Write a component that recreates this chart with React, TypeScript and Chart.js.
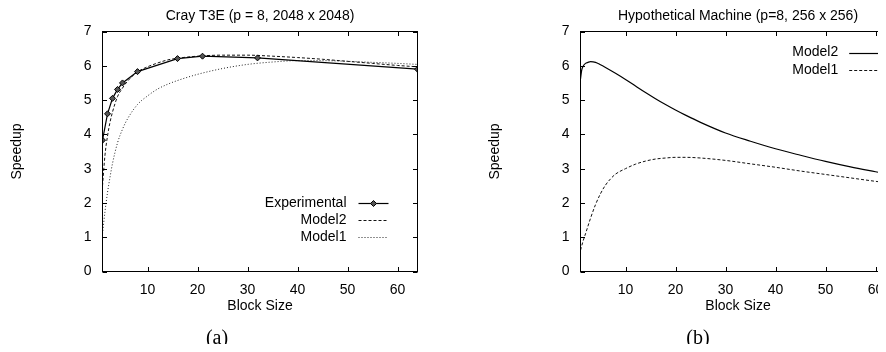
import React, { useEffect, useRef } from "react";
import { Chart, registerables } from "chart.js";
Chart.register(...registerables);

const SANS = "'Liberation Sans', Arial, Helvetica, sans-serif";
const SERIF = "'Liberation Serif', 'Times New Roman', serif";
const FS = 14;

const X_TICKS = [10, 20, 30, 40, 50, 60];
const Y_TICKS = [0, 1, 2, 3, 4, 5, 6, 7];

// (a) Cray T3E
const A_EXP_X = [1, 2, 3, 4, 5, 8, 16, 21, 32, 64];
const A_EXP_Y = [3.83, 4.6, 5.05, 5.31, 5.5, 5.83, 6.21, 6.28, 6.23, 5.9];
const A_M2_X = [1, 1.5, 2, 2.5, 3, 4, 5, 6, 8, 10, 12, 14, 16, 20, 25, 30, 35, 40, 45, 50, 55, 60, 64];
const A_M2_Y = [2.5, 3.4, 3.95, 4.35, 4.65, 5.1, 5.35, 5.55, 5.82, 5.97, 6.08, 6.17, 6.22, 6.28, 6.31, 6.31, 6.28, 6.24, 6.19, 6.13, 6.07, 6.01, 5.97];
const A_M1_X = [1, 1.5, 2, 2.5, 3, 4, 5, 6, 8, 10, 12, 14, 16, 20, 25, 30, 35, 40, 45, 50, 55, 60, 64];
const A_M1_Y = [1.1, 1.75, 2.3, 2.75, 3.15, 3.75, 4.15, 4.45, 4.87, 5.12, 5.32, 5.46, 5.57, 5.75, 5.92, 6.04, 6.11, 6.15, 6.15, 6.13, 6.1, 6.07, 6.04];

// (b) Hypothetical machine
const B_M2_X = [1, 1.25, 1.5, 2, 2.5, 3, 4, 5, 6, 8, 10, 12, 14, 16, 18, 20, 22, 25, 30, 35, 40, 45, 50, 55, 60, 64];
const B_M2_Y = [5.62, 5.88, 5.98, 6.07, 6.1, 6.12, 6.1, 6.03, 5.95, 5.78, 5.6, 5.41, 5.22, 5.04, 4.87, 4.71, 4.56, 4.35, 4.04, 3.8, 3.58, 3.39, 3.21, 3.05, 2.91, 2.8];
const B_M1_X = [1, 1.5, 2, 3, 4, 5, 6, 7, 8, 10, 12, 14, 16, 18, 20, 22, 25, 30, 35, 40, 45, 50, 55, 60, 64];
const B_M1_Y = [0.62, 0.88, 1.1, 1.55, 1.95, 2.27, 2.52, 2.7, 2.84, 3.0, 3.13, 3.22, 3.28, 3.31, 3.33, 3.33, 3.31, 3.24, 3.14, 3.04, 2.93, 2.83, 2.73, 2.63, 2.56];

const pts = (xs: number[], ys: number[]) => xs.map((x, i) => ({ x, y: ys[i] }));

const framePlugin = {
  id: "gpFrame",
  afterDraw(chart: any) {
    const { ctx, chartArea: a, scales } = chart;
    const L = 4.5;
    ctx.save();
    ctx.strokeStyle = "#000";
    ctx.lineWidth = 1;
    ctx.setLineDash([]);
    ctx.beginPath();
    scales.x.ticks.forEach((t: any) => {
      const px = Math.round(scales.x.getPixelForValue(t.value)) + 0.5;
      ctx.moveTo(px, a.bottom);
      ctx.lineTo(px, a.bottom - L);
      ctx.moveTo(px, a.top);
      ctx.lineTo(px, a.top + L);
    });
    scales.y.ticks.forEach((t: any) => {
      const py = Math.round(scales.y.getPixelForValue(t.value)) + 0.5;
      ctx.moveTo(a.left, py);
      ctx.lineTo(a.left + L, py);
      ctx.moveTo(a.right, py);
      ctx.lineTo(a.right - L, py);
    });
    ctx.stroke();
    ctx.strokeRect(a.left, a.top, a.right - a.left, a.bottom - a.top);
    ctx.restore();
  },
};

const keyPlugin = {
  id: "gpKey",
  afterDatasetsDraw(chart: any, _args: any, opts: any) {
    const { ctx, chartArea: a } = chart;
    ctx.save();
    ctx.font = `${opts.fontSize}px ${SANS}`;
    ctx.textAlign = "right";
    ctx.textBaseline = "middle";
    ctx.fillStyle = "#000";
    chart.data.datasets.forEach((ds: any, i: number) => {
      const y = a.top + opts.top + i * opts.spacing;
      ctx.fillText(ds.label, a.right - opts.textRight, y);
      const x1 = a.right - opts.sampleFrom;
      const x2 = a.right - opts.sampleTo;
      const ly = Math.round(y) + 0.5;
      ctx.strokeStyle = ds.borderColor;
      ctx.lineWidth = ds.borderWidth;
      ctx.setLineDash(ds.borderDash || []);
      ctx.beginPath();
      ctx.moveTo(x1, ly);
      ctx.lineTo(x2, ly);
      ctx.stroke();
      if (ds.pointRadius > 0) {
        const r = ds.pointRadius;
        const cx = (x1 + x2) / 2;
        ctx.setLineDash([]);
        ctx.beginPath();
        ctx.moveTo(cx, ly - r);
        ctx.lineTo(cx + r, ly);
        ctx.lineTo(cx, ly + r);
        ctx.lineTo(cx - r, ly);
        ctx.closePath();
        ctx.fillStyle = ds.pointBackgroundColor;
        ctx.fill();
        ctx.strokeStyle = ds.pointBorderColor;
        ctx.lineWidth = 1;
        ctx.stroke();
        ctx.fillStyle = "#000";
      }
    });
    ctx.restore();
  },
};

function makeConfig(title: string, datasets: any[], key: any): any {
  return {
    type: "line",
    data: { datasets },
    options: {
      responsive: false,
      animation: false,
      events: [],
      layout: { padding: { left: 0, right: 25.5, top: 0, bottom: 37.6 } },
      plugins: {
        legend: { display: false },
        tooltip: { enabled: false },
        title: {
          display: true,
          text: title,
          color: "#000",
          fullSize: false,
          font: { family: SANS, size: FS, weight: "normal" },
          padding: { top: 7.6, bottom: 7.1 },
        },
        gpKey: key,
      },
      scales: {
        x: {
          type: "linear",
          min: 1,
          max: 64,
          afterBuildTicks: (s: any) => {
            s.ticks = X_TICKS.map((v) => ({ value: v }));
          },
          afterFit: (s: any) => {
            s.height = 42.9;
          },
          grid: { display: false, drawTicks: false },
          border: { display: false },
          ticks: { color: "#000", padding: 9.8, font: { family: SANS, size: FS }, maxRotation: 0 },
          title: {
            display: true,
            text: "Block Size",
            color: "#000",
            font: { family: SANS, size: FS },
            padding: { top: 0, bottom: 0 },
          },
        },
        y: {
          type: "linear",
          min: 0,
          max: 7,
          afterBuildTicks: (s: any) => {
            s.ticks = Y_TICKS.map((v) => ({ value: v }));
          },
          afterFit: (s: any) => {
            s.width = 102.5;
          },
          grid: { display: false, drawTicks: false },
          border: { display: false },
          ticks: { color: "#000", padding: 11, font: { family: SANS, size: FS } },
          title: {
            display: true,
            text: "Speedup",
            color: "#000",
            font: { family: SANS, size: FS },
            padding: { top: 8.6, bottom: 0 },
          },
        },
      },
    },
    plugins: [framePlugin, keyPlugin],
  };
}

const lineBase = { fill: false, pointRadius: 0, borderWidth: 1, cubicInterpolationMode: "monotone" };

function ChartCanvas({ config, left }: { config: any; left: number }) {
  const ref = useRef<HTMLCanvasElement | null>(null);
  useEffect(() => {
    if (!ref.current) return;
    const c = new Chart(ref.current, config);
    return () => c.destroy();
  }, []);
  return (
    <canvas
      ref={ref}
      width={443}
      height={352}
      style={{ position: "absolute", left, top: 0, width: 443, height: 352 }}
    />
  );
}

export default function App() {
  const cfgA = makeConfig(
    "Cray T3E (p = 8, 2048 x 2048)",
    [
      {
        label: "Experimental",
        data: pts(A_EXP_X, A_EXP_Y),
        borderColor: "#000",
        borderWidth: 1.2,
        fill: false,
        tension: 0,
        pointStyle: "rectRot",
        pointRadius: 3,
        pointBackgroundColor: "#555",
        pointBorderColor: "#000",
        pointBorderWidth: 1,
      },
      { ...lineBase, label: "Model2", data: pts(A_M2_X, A_M2_Y), borderColor: "#111", borderDash: [3, 2] },
      { ...lineBase, label: "Model1", data: pts(A_M1_X, A_M1_Y), borderColor: "#222", borderDash: [1, 2] },
    ],
    { fontSize: FS, top: 171.3, spacing: 17, textRight: 71, sampleFrom: 59, sampleTo: 29 }
  );
  const cfgB = makeConfig(
    "Hypothetical Machine (p=8, 256 x 256)",
    [
      { ...lineBase, label: "Model2", data: pts(B_M2_X, B_M2_Y), borderColor: "#000", borderWidth: 1.2 },
      { ...lineBase, label: "Model1", data: pts(B_M1_X, B_M1_Y), borderColor: "#111", borderDash: [3, 2] },
    ],
    { fontSize: FS, top: 21, spacing: 17.3, textRight: 57.3, sampleFrom: 46.3, sampleTo: 15.3 }
  );
  const cap: React.CSSProperties = {
    position: "absolute",
    top: 326.5,
    width: 60,
    textAlign: "center",
    fontFamily: SERIF,
    fontSize: 20,
    lineHeight: "20px",
    color: "#000",
  };
  return (
    <div style={{ position: "relative", margin: -8, height: 352, overflow: "hidden", background: "#fff" }}>
      <ChartCanvas config={cfgA} left={0} />
      <ChartCanvas config={cfgB} left={478} />
      <div style={{ ...cap, left: 187 }}>(a)</div>
      <div style={{ ...cap, left: 668 }}>(b)</div>
    </div>
  );
}
